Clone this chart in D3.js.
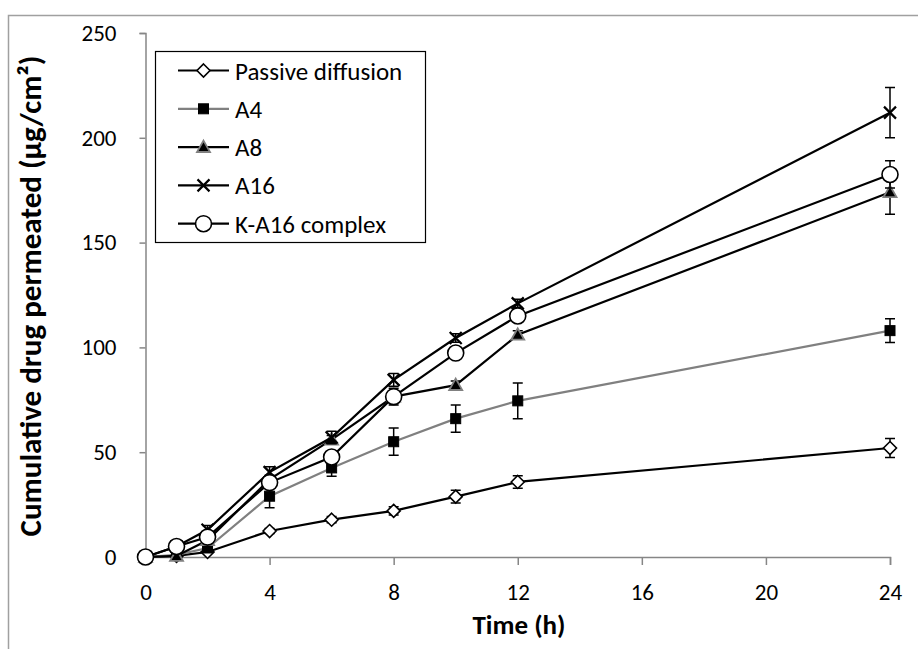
<!DOCTYPE html>
<html><head><meta charset="utf-8">
<script src="https://cdn.jsdelivr.net/npm/d3@7"></script>
<style>body{margin:0;background:#fff}svg{display:block}</style>
</head><body>
<svg id="c" width="918" height="649"></svg>
<script>
const time = [0, 1, 2, 4, 6, 8, 10, 12, 24];
const passive = [0, 0.5, 2.4, 12.4, 17.8, 22, 28.8, 35.8, 52];
const passiveErr = [0, 0.3, 0.5, 1.2, 1.5, 2, 3, 3, 4.5];
const a4 = [0, 1, 4.3, 29, 42.5, 55, 66, 74.5, 108];
const a4Err = [0, 0.5, 1.5, 5.5, 4, 6.5, 6.5, 8.5, 5.7];
const a8 = [0, 0.5, 8, 37, 56, 76.5, 82, 106, 174];
const a8Err = [0, 0.5, 1, 2, 2, 2, 2, 2, 10.5];
const a16 = [0, 5, 13, 40.5, 57, 84.5, 104.5, 121, 212];
const a16Err = [0, 1, 2, 2.5, 3, 3, 2, 2, 12];
const ka16 = [0, 5, 9.5, 35.5, 47.7, 76.5, 97.3, 115, 182.5];
const ka16Err = [0, 1, 2, 2, 2, 4, 2, 3, 6.5];
const xTicks = [0, 4, 8, 12, 16, 20, 24];
const yTicks = [0, 50, 100, 150, 200, 250];
const seriesNames = ["Passive diffusion", "A4", "A8", "A16", "K-A16 complex"];

const series = [
  {name: seriesNames[0], v: passive, e: passiveErr, line: "#000", marker: "diamond"},
  {name: seriesNames[1], v: a4, e: a4Err, line: "#808080", marker: "square"},
  {name: seriesNames[2], v: a8, e: a8Err, line: "#000", marker: "triangle"},
  {name: seriesNames[3], v: a16, e: a16Err, line: "#000", marker: "x"},
  {name: seriesNames[4], v: ka16, e: ka16Err, line: "#000", marker: "circle"}
];

const FONT = "Carlito, Calibri, Lato, 'Open Sans', sans-serif";
const svg = d3.select("#c");
const x = d3.scaleLinear().domain([0, 24]).range([145.5, 890]);
const y = d3.scaleLinear().domain([0, 250]).range([557, 33]);

// outer chart border
svg.append("rect").attr("x", 8.5).attr("y", 15.5).attr("width", 920).attr("height", 660)
  .attr("fill", "none").attr("stroke", "#a0a0a0").attr("stroke-width", 1.5);

// axes
const axisColor = "#868686";
const gx = svg.append("g").attr("transform", `translate(0,${y(0)})`)
  .call(d3.axisBottom(x).tickValues(xTicks).tickSize(8).tickPadding(19).tickFormat(d3.format("d")));
const gy = svg.append("g").attr("transform", `translate(${x(0)},0)`)
  .call(d3.axisLeft(y).tickValues(yTicks).tickSize(6).tickPadding(23).tickFormat(d3.format("d")));
[gx, gy].forEach(g => {
  g.select(".domain").attr("stroke", axisColor).attr("stroke-width", 1.5);
  g.selectAll(".tick line").attr("stroke", axisColor).attr("stroke-width", 1.5);
  g.selectAll(".tick text").attr("fill", "#000").style("font-family", FONT).style("font-size", "23px");
});

// axis titles
svg.append("text").attr("x", 519).attr("y", 634).attr("text-anchor", "middle")
  .style("font-family", FONT).style("font-size", "27px").style("font-weight", "bold")
  .text("Time (h)");
svg.append("text").attr("transform", "translate(41,296) rotate(-90)").attr("text-anchor", "middle")
  .style("font-family", FONT).style("font-size", "31px").style("font-weight", "bold")
  .text("Cumulative drug permeated (µg/cm²)");

function drawMarker(g, type, cx, cy) {
  if (type === "diamond") {
    const r = 6.5;
    g.append("path").attr("d", `M${cx},${cy - r}L${cx + r},${cy}L${cx},${cy + r}L${cx - r},${cy}Z`)
      .attr("fill", "#fff").attr("stroke", "#000").attr("stroke-width", 1.6);
  } else if (type === "square") {
    g.append("rect").attr("x", cx - 5).attr("y", cy - 5).attr("width", 10).attr("height", 10)
      .attr("fill", "#000").attr("stroke", "#000").attr("stroke-width", 1);
  } else if (type === "triangle") {
    const r = 6.5;
    g.append("path").attr("d", `M${cx},${cy - r}L${cx + r},${cy + r * 0.75}L${cx - r},${cy + r * 0.75}Z`)
      .attr("fill", "#000").attr("stroke", "#808080").attr("stroke-width", 1.8);
  } else if (type === "x") {
    const r = 6;
    g.append("path").attr("d", `M${cx - r},${cy - r}L${cx + r},${cy + r}M${cx - r},${cy + r}L${cx + r},${cy - r}`)
      .attr("stroke", "#000").attr("stroke-width", 2.2);
  } else if (type === "circle") {
    g.append("circle").attr("cx", cx).attr("cy", cy).attr("r", 8)
      .attr("fill", "#fff").attr("stroke", "#000").attr("stroke-width", 1.6);
  }
}

const plot = svg.append("g");
series.forEach(s => {
  const g = plot.append("g");
  const pts = time.map((t, i) => [t, s.v[i], s.e[i]]);
  g.append("path").datum(pts)
    .attr("d", d3.line().x(d => x(d[0])).y(d => y(d[1])))
    .attr("fill", "none").attr("stroke", s.line).attr("stroke-width", 2.2);
  pts.forEach(d => {
    if (d[2] > 0.8) {
      const cx = x(d[0]), y1 = y(d[1] + d[2]), y2 = y(d[1] - d[2]);
      g.append("path")
        .attr("d", `M${cx},${y1}L${cx},${y2}M${cx - 5},${y1}L${cx + 5},${y1}M${cx - 5},${y2}L${cx + 5},${y2}`)
        .attr("stroke", "#000").attr("stroke-width", 1.5).attr("fill", "none");
    }
  });
  pts.forEach(d => drawMarker(g, s.marker, x(d[0]), y(d[1])));
});

// legend
const lg = svg.append("g");
lg.append("rect").attr("x", 155.5).attr("y", 51.5).attr("width", 270).attr("height", 191)
  .attr("fill", "#fff").attr("stroke", "#000").attr("stroke-width", 1.2);
series.forEach((s, i) => {
  const cy = 70.5 + i * 38.3;
  lg.append("line").attr("x1", 178).attr("x2", 229).attr("y1", cy).attr("y2", cy)
    .attr("stroke", s.line).attr("stroke-width", 2.2);
  drawMarker(lg, s.marker, 203.5, cy);
  lg.append("text").attr("x", 235).attr("y", cy + 9)
    .style("font-family", FONT).style("font-size", "25px").text(s.name);
});
</script>
</body></html>
